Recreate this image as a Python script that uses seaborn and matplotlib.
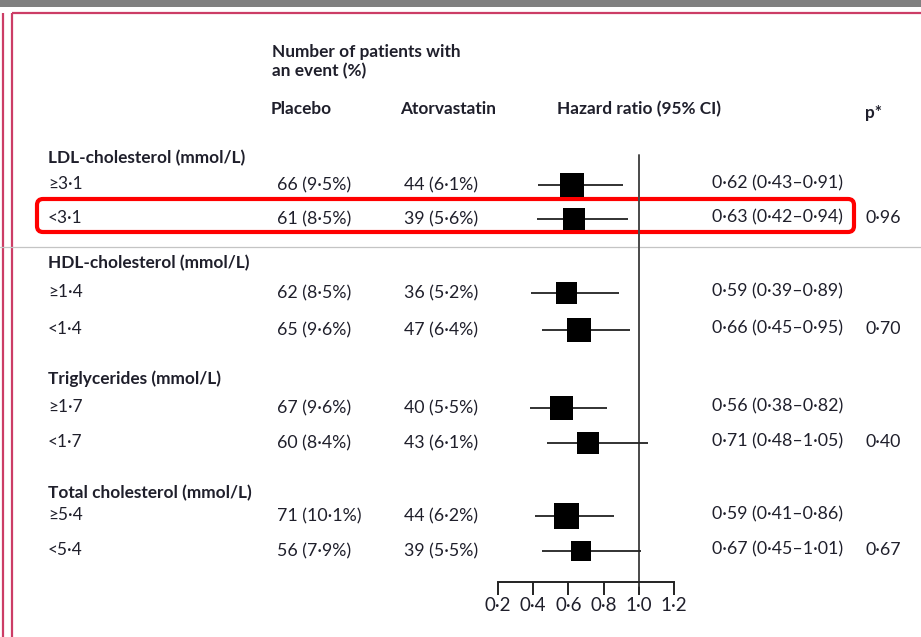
import matplotlib
matplotlib.use("Agg")
import matplotlib.pyplot as plt
from matplotlib.patches import FancyBboxPatch
import seaborn as sns
import pandas as pd

# ---------------- data ----------------
groups = ["LDL-cholesterol (mmol/L)", "HDL-cholesterol (mmol/L)",
          "Triglycerides (mmol/L)", "Total cholesterol (mmol/L)"]
subgroups = ["≥3·1", "<3·1", "≥1·4", "<1·4", "≥1·7", "<1·7", "≥5·4", "<5·4"]
placebo_n = [66, 61, 62, 65, 67, 60, 71, 56]
placebo_pct = [9.5, 8.5, 8.5, 9.6, 9.6, 8.4, 10.1, 7.9]
atorva_n = [44, 39, 36, 47, 40, 43, 44, 39]
atorva_pct = [6.1, 5.6, 5.2, 6.4, 5.5, 6.1, 6.2, 5.5]
hr = [0.62, 0.63, 0.59, 0.66, 0.56, 0.71, 0.59, 0.67]
ci_lo = [0.43, 0.42, 0.39, 0.45, 0.38, 0.48, 0.41, 0.45]
ci_hi = [0.91, 0.94, 0.89, 0.95, 0.82, 1.05, 0.86, 1.01]
p_values = ["0·96", "0·70", "0·40", "0·67"]
x_ticks = [0.2, 0.4, 0.6, 0.8, 1.0, 1.2]

def dot(v, nd=2):
    return f"{v:.{nd}f}".replace(".", "·")

# ---------------- layout (pixels) ----------------
W, H = 921, 637
row_y = [185, 219, 293, 330, 408, 443, 516, 551]
head_y = [158, 263, 379, 493]

sns.set_theme(style="white")
plt.rcParams["font.family"] = ["Lato", "DejaVu Sans"]
TXT = "#1f1f2b"
FS = 12.4      # general text
FSN = 12.8     # numeric columns
HW = "bold"

fig = plt.figure(figsize=(W / 100, H / 100), dpi=100)
ax0 = fig.add_axes([0, 0, 1, 1])
ax0.set_xlim(0, W)
ax0.set_ylim(H, 0)
ax0.axis("off")

# screenshot frame decorations
ax0.add_patch(plt.Rectangle((0, 0), W, 7, color="#808080", lw=0))
pink = "#cc3d66"
ax0.plot([2.5, 2.5], [13, H], color=pink, lw=1.6, solid_capstyle="butt")
ax0.plot([11.5, 11.5], [13, H], color=pink, lw=1.6, solid_capstyle="butt")
ax0.plot([11.5, W], [13, 13], color=pink, lw=1.6, solid_capstyle="butt")
ax0.plot([0, W], [247, 247], color="#c4c4c4", lw=0.9)

# highlight box
ax0.add_patch(FancyBboxPatch((37, 199), 817, 33,
                             boxstyle="round,pad=0,rounding_size=6",
                             fill=False, ec="#ff0000", lw=3.0))

# headers
ax0.text(272, 52, "Number of patients with", fontsize=FS, weight=HW,
         color=TXT, va="center", ha="left")
ax0.text(272, 71, "an event (%)", fontsize=FS, weight=HW,
         color=TXT, va="center", ha="left")
for x, s in [(271, "Placebo"), (400, "Atorvastatin"), (557, "Hazard ratio (95% CI)")]:
    ax0.text(x, 109, s, fontsize=FS, weight=HW, color=TXT, va="center", ha="left")
ax0.text(865, 113, "p*", fontsize=FS, weight=HW, color=TXT, va="center", ha="left")

for g, y in zip(groups, head_y):
    ax0.text(48, y, g, fontsize=FS, weight=HW, color=TXT, va="center", ha="left")

for i, y in enumerate(row_y):
    ax0.text(48, y - 1, subgroups[i], fontsize=FS, color=TXT, va="center", ha="left")
    ax0.text(277, y, f"{placebo_n[i]} ({dot(placebo_pct[i], 1)}%)", fontsize=FSN,
             color=TXT, va="center", ha="left")
    ax0.text(404, y, f"{atorva_n[i]} ({dot(atorva_pct[i], 1)}%)", fontsize=FSN,
             color=TXT, va="center", ha="left")
    ax0.text(843, y - 2, f"{dot(hr[i])} ({dot(ci_lo[i])}–{dot(ci_hi[i])})",
             fontsize=FSN, color=TXT, va="center", ha="right")
for j, pv in enumerate(p_values):
    ax0.text(865, row_y[2 * j + 1] - 1, pv, fontsize=FSN, color=TXT, va="center", ha="left")

# ---------------- forest axes ----------------
left_px, right_px, top_px, bot_px = 498, 674, 150, 582
ax = fig.add_axes([left_px / W, (H - bot_px) / H,
                   (right_px - left_px) / W, (bot_px - top_px) / H])
ax.set_facecolor("none")
ax.set_xlim(0.2, 1.2)
ax.set_ylim(bot_px, top_px)

df = pd.DataFrame({"hr": hr, "lo": ci_lo, "hi": ci_hi, "y": row_y,
                   "events": [a + b for a, b in zip(placebo_n, atorva_n)]})

ax.plot([1.0, 1.0], [155, 586], color="#4a4a4a", lw=1.4, clip_on=False, zorder=1)
ax.hlines(df["y"], df["lo"], df["hi"], color="#222222", lw=1.3, clip_on=False, zorder=2)
sns.scatterplot(data=df, x="hr", y="y", size="events", sizes=(215, 330),
                marker="s", color="black", linewidth=0, legend=False,
                ax=ax, clip_on=False, zorder=3)

for side in ["top", "right", "left"]:
    ax.spines[side].set_visible(False)
ax.spines["bottom"].set_color("#222222")
ax.spines["bottom"].set_linewidth(1.4)
ax.set_xticks(x_ticks)
ax.set_xticklabels([dot(t, 1) for t in x_ticks], fontsize=13.5, color=TXT)
ax.tick_params(axis="x", direction="out", length=9.5, width=1.4, color="#222222",
               pad=1.0, bottom=True)
ax.set_yticks([])
ax.set_xlabel("")
ax.set_ylabel("")

fig.savefig("out.png", dpi=100)
